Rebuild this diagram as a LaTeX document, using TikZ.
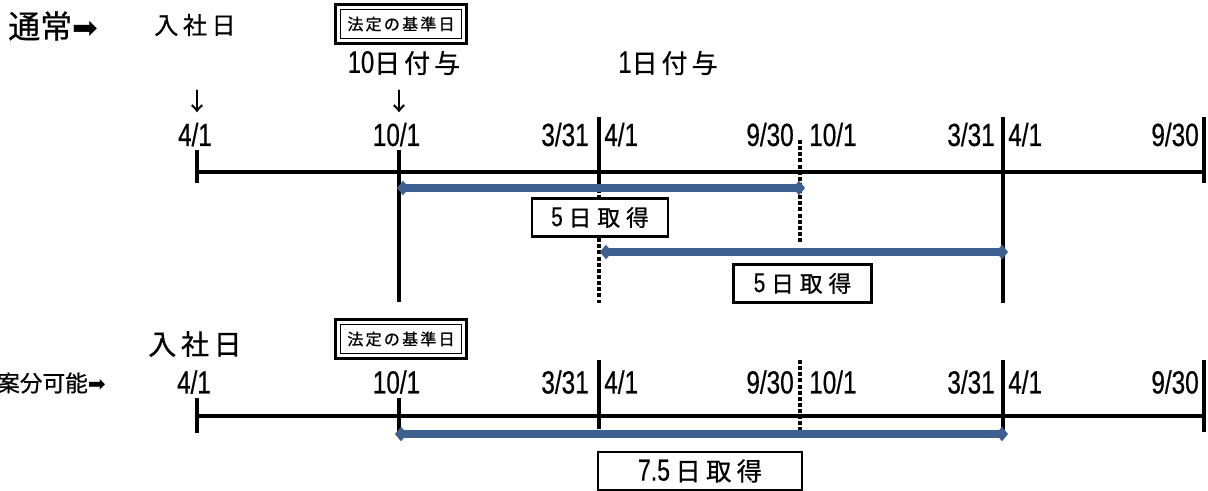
\documentclass[tikz,border=0pt]{standalone}
\usepackage{fontspec}
\setmainfont{Noto Sans CJK JP}[FakeBold=0.7]
\newfontfamily\numfont[FakeStretch=0.76,Scale=1.2,FakeBold=0.5]{Liberation Sans}
\newfontfamily\symfont{DejaVu Sans}
\usetikzlibrary{arrows.meta,calc}
\definecolor{barblue}{HTML}{3D6090}
\tikzset{
  axisline/.style={line width=2.3pt},
  tk/.style={line width=2.3pt},
  dtk/.style={line width=2.4pt, dash pattern=on 3pt off 1.6pt},
  bar/.style={line width=6.5pt, draw=barblue,
    {Diamond[length=9pt,width=11pt,fill=barblue]}-{Diamond[length=9pt,width=11pt,fill=barblue]}},
  datelbl/.style={font=\numfont\fontsize{20}{20}\selectfont, inner sep=0pt},
  takebox/.style={draw, line width=2.2pt, fill=white, inner sep=0pt},
  kijun/.style={draw, line width=0.9pt, minimum width=91pt, minimum height=22pt, inner sep=0pt,
    font=\fontsize{12}{12}\selectfont},
  plain/.style={inner sep=0pt},
  outerframe/.style={line width=2.2pt},
}
\begin{document}
\begin{tikzpicture}[x=0.75pt,y=-0.75pt]
\useasboundingbox (0,0) rectangle (1208,490);

% ---------- Row 1 ----------
\node[plain, anchor=west, font=\fontsize{24}{24}\selectfont] (tsujo) at (8,26) {通常{\symfont\fontsize{23}{23}\selectfont ➡}};
\node[plain, font=\fontsize{18}{18}\selectfont] (nyusha1) at (195,25) {入\hspace{3.5pt}社\hspace{3.5pt}日};
\node[kijun] (kijun1) at (401,24) {法\hspace{1.7pt}定\hspace{1.7pt}の\hspace{1.7pt}基\hspace{1.7pt}準\hspace{1.7pt}日};
\draw[outerframe] ($(kijun1.south west)+(-4.5,4.5)$) rectangle ($(kijun1.north east)+(4.5,-4.5)$);
\node[plain, font=\fontsize{19.5}{19.5}\selectfont] (fuyo10) at (404,63) {{\numfont 10}日\hspace{3pt}付\hspace{3pt}与};
\node[plain, font=\fontsize{19.5}{19.5}\selectfont] (fuyo11) at (668,63) {{\numfont 1}日\hspace{3pt}付\hspace{3pt}与};
\node[plain, font=\fontsize{18}{18}\selectfont] (dn1) at (197,101) {↓};
\node[plain, font=\fontsize{18}{18}\selectfont] (dn2) at (399,101) {↓};

% dates row 1
\node[datelbl] (r1d1) at (195,134.5) {4/1};
\node[datelbl] (r1d2) at (396.5,134.5) {10/1};
\node[datelbl, anchor=east] (r1d3) at (589,134.5) {3/31};
\node[datelbl, anchor=west] (r1d4) at (604,134.5) {4/1};
\node[datelbl, anchor=east] (r1d5) at (794,134.5) {9/30};
\node[datelbl, anchor=west] (r1d6) at (809,134.5) {10/1};
\node[datelbl, anchor=east] (r1d7) at (995,134.5) {3/31};
\node[datelbl, anchor=west] (r1d8) at (1008,134.5) {4/1};
\node[datelbl, anchor=east] (r1d9) at (1199,134.5) {9/30};

% axis row 1
\coordinate (r1s) at (197,172);
\coordinate (r1e) at (1204,172);
\draw[axisline] (r1s) -- (r1e);
\draw[tk] (197,150) -- (197,183);
\draw[tk] (399,150) -- (399,302);
\draw[tk] (599,117) -- (599,183);
\draw[dtk] (599,183) -- (599,303);
\draw[dtk] (800,140) -- (800,243);
\draw[tk] (1003,117) -- (1003,303);
\draw[tk] (1204,117) -- (1204,183);

% bars row 1
\coordinate (b1s) at (397,188);
\coordinate (b1e) at (805,188);
\draw[bar] (b1s) -- (b1e);
\node[takebox, minimum width=102pt, minimum height=29pt, font=\fontsize{17}{17}\selectfont] (take1) at (600,217.5) {{\numfont 5}\hspace{4.5pt}日\hspace{4.5pt}取\hspace{4.5pt}得};
\coordinate (b2s) at (600,252);
\coordinate (b2e) at (1008,252);
\draw[bar] (b2s) -- (b2e);
\node[takebox, minimum width=104pt, minimum height=28pt, font=\fontsize{17}{17}\selectfont] (take2) at (802.5,283.5) {{\numfont 5}\hspace{4.5pt}日\hspace{4.5pt}取\hspace{4.5pt}得};

% ---------- Row 2 ----------
\node[plain, anchor=east, font=\fontsize{17}{17}\selectfont] (anbun) at (106,383) {案分可能{\symfont\fontsize{16}{16}\selectfont ➡}};
\node[plain, font=\fontsize{21}{21}\selectfont] (nyusha2) at (195,344) {入\hspace{3.5pt}社\hspace{3.5pt}日};
\node[kijun] (kijun2) at (401,339) {法\hspace{1.7pt}定\hspace{1.7pt}の\hspace{1.7pt}基\hspace{1.7pt}準\hspace{1.7pt}日};
\draw[outerframe] ($(kijun2.south west)+(-4.5,4.5)$) rectangle ($(kijun2.north east)+(4.5,-4.5)$);

\node[datelbl] (r2d1) at (194,382) {4/1};
\node[datelbl] (r2d2) at (396.5,382) {10/1};
\node[datelbl, anchor=east] (r2d3) at (589,382) {3/31};
\node[datelbl, anchor=west] (r2d4) at (604,382) {4/1};
\node[datelbl, anchor=east] (r2d5) at (794,382) {9/30};
\node[datelbl, anchor=west] (r2d6) at (809,382) {10/1};
\node[datelbl, anchor=east] (r2d7) at (995,382) {3/31};
\node[datelbl, anchor=west] (r2d8) at (1008,382) {4/1};
\node[datelbl, anchor=east] (r2d9) at (1199,382) {9/30};

\coordinate (r2s) at (197,416);
\coordinate (r2e) at (1204,416);
\draw[axisline] (r2s) -- (r2e);
\draw[tk] (197,398) -- (197,433);
\draw[tk] (399,398) -- (399,432);
\draw[tk] (599,360) -- (599,429);
\draw[dtk] (800,360) -- (800,430);
\draw[tk] (1003,360) -- (1003,437);
\draw[tk] (1204,360) -- (1204,432);

\coordinate (b3s) at (395,434);
\coordinate (b3e) at (1008,434);
\draw[bar] (b3s) -- (b3e);
\node[takebox, minimum width=153pt, minimum height=28.5pt, font=\fontsize{19}{19}\selectfont] (take3) at (700,471) {{\numfont 7.5}\hspace{4pt}日\hspace{4pt}取\hspace{4pt}得};
\end{tikzpicture}
\end{document}
